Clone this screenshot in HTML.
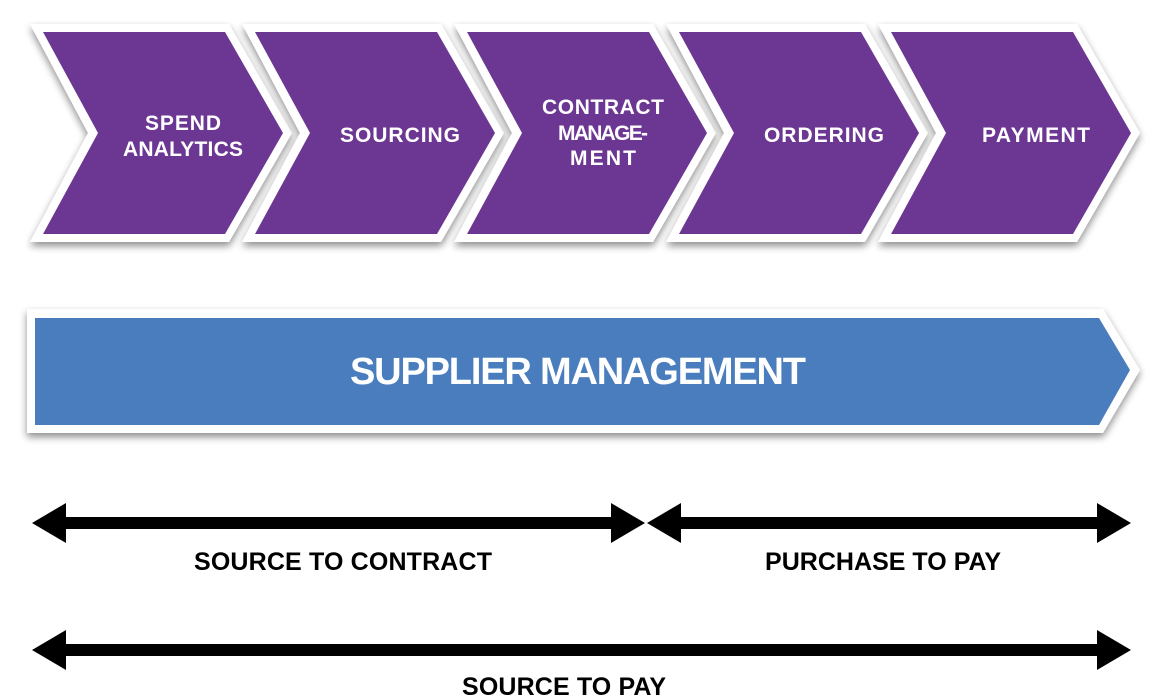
<!DOCTYPE html>
<html><head><meta charset="utf-8"><style>
html,body{margin:0;padding:0;background:#fff;}
svg{display:block;}
text{font-family:"Liberation Sans",sans-serif;font-weight:bold;}
</style></head><body>
<svg width="1156" height="697" viewBox="0 0 1156 697" xmlns="http://www.w3.org/2000/svg">
<defs>
<filter id="sh" x="-10%" y="-10%" width="120%" height="130%">
<feGaussianBlur in="SourceAlpha" stdDeviation="4"/>
<feOffset dx="0" dy="4" result="b"/>
<feComponentTransfer><feFuncA type="linear" slope="0.45"/></feComponentTransfer>
<feMerge><feMergeNode/><feMergeNode in="SourceGraphic"/></feMerge>
</filter>
<g id="chev">
<polygon points="30,24 229,24 292,133 229,242 30,242 88,133" fill="#fff" filter="url(#sh)"/>
<polygon points="43,32 225,32 283,133 225,234 43,234 98,133" fill="#6c3792"/>
</g>
</defs>
<use href="#chev"/>
<use href="#chev" x="212"/>
<use href="#chev" x="424"/>
<use href="#chev" x="636"/>
<use href="#chev" x="848"/>
<g fill="#fff" font-size="21" text-anchor="middle">
<text x="183" y="130" textLength="76">SPEND</text>
<text x="183" y="156" textLength="120">ANALYTICS</text>
<text x="400" y="142" textLength="120">SOURCING</text>
<text x="603" y="114" textLength="122">CONTRACT</text>
<text x="603" y="140" textLength="90">MANAGE-</text>
<text x="603" y="165" textLength="66">MENT</text>
<text x="824" y="142" textLength="120">ORDERING</text>
<text x="1036" y="142" textLength="108">PAYMENT</text>
</g>
<polygon points="27,309 1103,309 1140,370 1103,433 27,433" fill="#fff" filter="url(#sh)"/>
<polygon points="35,318 1099,318 1130,370 1099,425 35,425" fill="#4a7dbd"/>
<text x="578" y="384" fill="#fff" font-size="38" text-anchor="middle" textLength="456">SUPPLIER MANAGEMENT</text>
<g fill="#000">
<rect x="60" y="517" width="555" height="12"/>
<polygon points="32,523 66,503 66,543"/>
<polygon points="645,523 611,503 611,543"/>
<rect x="675" y="517" width="425" height="12"/>
<polygon points="647,523 681,503 681,543"/>
<polygon points="1131,523 1097,503 1097,543"/>
<rect x="60" y="644" width="1045" height="12"/>
<polygon points="32,650 66,630 66,670"/>
<polygon points="1131,650 1097,630 1097,670"/>
</g>
<g fill="#000" font-size="25" text-anchor="middle">
<text x="343" y="570" textLength="298">SOURCE TO CONTRACT</text>
<text x="883" y="570" textLength="236">PURCHASE TO PAY</text>
<text x="564" y="695" textLength="204">SOURCE TO PAY</text>
</g>
</svg>
</body></html>
